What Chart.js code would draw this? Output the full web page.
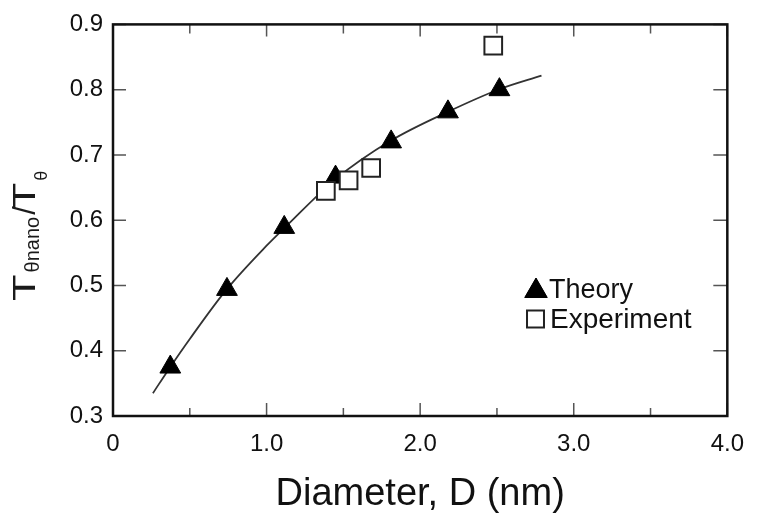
<!DOCTYPE html>
<html>
<head>
<meta charset="utf-8">
<script src="https://cdn.jsdelivr.net/npm/chart.js@4/dist/chart.umd.min.js"></script>
<style>
  body { margin: 0; background: #fff; }
  #wrap { width: 758px; height: 518px; }
</style>
</head>
<body>
<div id="wrap"><canvas id="myChart" width="758" height="518"></canvas></div>
<script>
var font_family = "'Liberation Sans', Arial, sans-serif";

// fitted curve, read along its path
var curve_x = [0.26, 0.37, 0.5, 0.74, 1.0, 1.12, 1.45, 1.81, 2.18, 2.52, 2.79];
var curve_y = [0.335, 0.374, 0.418, 0.494, 0.561, 0.589, 0.663, 0.722, 0.766, 0.801, 0.8215];

// theory points (triangles)
var theory_x = [0.373, 0.742, 1.115, 1.449, 1.811, 2.181, 2.516];
var theory_y = [0.375, 0.494, 0.589, 0.666, 0.720, 0.766, 0.800];

// experiment points (squares)
var exp_x = [1.386, 1.534, 1.681, 2.476];
var exp_y = [0.645, 0.661, 0.680, 0.8675];

var x_ticks_major = [0, 1, 2, 3, 4];
var x_ticks_minor = [0.5, 1.5, 2.5, 3.5];
var y_ticks = [0.3, 0.4, 0.5, 0.6, 0.7, 0.8, 0.9];

function toPoints(xs, ys) {
    var pts = [];
    for (let i = 0; i < xs.length; i++) {
        pts.push({x: xs[i], y: ys[i]});
    }
    return pts;
}

// box around the plot with inward tick marks on all four sides
var framePlugin = {
    id: 'frame',
    afterDraw: function (chart) {
        var ctx = chart.ctx;
        var a = chart.chartArea;
        var xs = chart.scales.x;
        var ys = chart.scales.y;
        ctx.save();
        ctx.strokeStyle = '#555';
        ctx.lineWidth = 1.5;
        ctx.beginPath();
        x_ticks_major.forEach(function (v) {
            var px = xs.getPixelForValue(v);
            ctx.moveTo(px, a.bottom); ctx.lineTo(px, a.bottom - 13);
            ctx.moveTo(px, a.top); ctx.lineTo(px, a.top + 12);
        });
        x_ticks_minor.forEach(function (v) {
            var px = xs.getPixelForValue(v);
            ctx.moveTo(px, a.bottom); ctx.lineTo(px, a.bottom - 8);
            ctx.moveTo(px, a.top); ctx.lineTo(px, a.top + 9);
        });
        y_ticks.forEach(function (v) {
            var py = ys.getPixelForValue(v);
            ctx.moveTo(a.left, py); ctx.lineTo(a.left + 13, py);
            ctx.moveTo(a.right, py); ctx.lineTo(a.right - 14, py);
        });
        ctx.stroke();
        ctx.strokeStyle = '#111';
        ctx.lineWidth = 2.5;
        ctx.strokeRect(a.left, a.top, a.right - a.left, a.bottom - a.top);
        ctx.restore();
    }
};

// y title with subscripts, drawn rotated
var yTitlePlugin = {
    id: 'yTitle',
    afterDraw: function (chart) {
        var ctx = chart.ctx;
        var parts = [
            {text: 'T', size: 31, dy: 0, sx: 1.4, gap: 0},
            {text: '\u03b8nano', size: 20, dy: 4, sx: 1, gap: 2},
            {text: '/', size: 31, dy: 0, sx: 1, gap: 2},
            {text: 'T', size: 31, dy: 0, sx: 1.4, gap: -3},
            {text: '\u03b8', size: 18, dy: 12, sx: 1, gap: 2}
        ];
        ctx.save();
        ctx.translate(35, 301);
        ctx.rotate(-Math.PI / 2);
        ctx.fillStyle = '#1a1a1a';
        ctx.textBaseline = 'alphabetic';
        ctx.textAlign = 'left';
        var pos = 0;
        parts.forEach(function (p) {
            pos += p.gap;
            ctx.font = p.size + 'px ' + font_family;
            var w = ctx.measureText(p.text).width * p.sx;
            ctx.save();
            ctx.translate(pos, p.dy);
            ctx.scale(p.sx, 1);
            ctx.fillText(p.text, 0, 0);
            ctx.restore();
            pos += w;
        });
        ctx.restore();
    }
};

// legend inside the plot
var legendPlugin = {
    id: 'innerLegend',
    afterDraw: function (chart) {
        var ctx = chart.ctx;
        ctx.save();
        Chart.helpers.drawPoint(ctx, {pointStyle: 'triangle', radius: 13, rotation: 0, borderWidth: 1}, 536, 291);
        ctx.fillStyle = '#000';
        ctx.fill();
        ctx.restore();
        ctx.save();
        ctx.fillStyle = '#fff';
        ctx.strokeStyle = '#222';
        ctx.lineWidth = 2;
        Chart.helpers.drawPoint(ctx, {pointStyle: 'rect', radius: 12, rotation: 0, borderWidth: 2}, 535.5, 319);
        ctx.restore();
        ctx.save();
        ctx.fillStyle = '#111';
        ctx.textBaseline = 'alphabetic';
        ctx.font = '27px ' + font_family;
        ctx.fillText('Theory', 549, 298);
        ctx.font = '28px ' + font_family;
        ctx.fillText('Experiment', 550, 328);
        ctx.restore();
    }
};

function make_datasets() {
    return [
        {
            label: 'Experiment',
            data: toPoints(exp_x, exp_y),
            pointStyle: 'rect',
            pointRadius: 12.5,
            backgroundColor: '#fff',
            borderColor: '#222',
            borderWidth: 2,
            showLine: false,
            order: 0
        },
        {
            label: 'Theory',
            data: toPoints(theory_x, theory_y),
            pointStyle: 'triangle',
            pointRadius: 12,
            backgroundColor: '#000',
            borderColor: '#000',
            borderWidth: 1,
            showLine: false,
            order: 1
        },
        {
            label: 'fit',
            type: 'line',
            data: toPoints(curve_x, curve_y),
            pointRadius: 0,
            borderColor: '#333',
            borderWidth: 1.8,
            cubicInterpolationMode: 'monotone',
            fill: false,
            order: 2
        }
    ];
}

function chart_stats() {
    var ctx = document.getElementById('myChart').getContext('2d');
    var chartConfig = {
        type: 'scatter',
        data: {
            datasets: make_datasets()
        },
        options: {
            responsive: false,
            animation: false,
            layout: {
                padding: {top: 22.5, right: 20.5, left: 0, bottom: 0}
            },
            scales: {
                x: {
                    type: 'linear',
                    min: 0,
                    max: 4,
                    grid: {display: false, drawTicks: false},
                    border: {display: false},
                    ticks: {
                        stepSize: 1,
                        padding: 14,
                        color: '#111',
                        font: {family: font_family, size: 24},
                        callback: function (v) { return v === 0 ? '0' : v.toFixed(1); }
                    },
                    title: {
                        display: true,
                        text: 'Diameter, D (nm)',
                        color: '#111',
                        font: {family: font_family, size: 38},
                        padding: {top: 0, bottom: 1}
                    },
                    afterFit: function (scale) { scale.height = 102; }
                },
                y: {
                    min: 0.3,
                    max: 0.9,
                    grid: {display: false, drawTicks: false},
                    border: {display: false},
                    ticks: {
                        stepSize: 0.1,
                        padding: 10,
                        color: '#111',
                        font: {family: font_family, size: 24},
                        callback: function (v) { return v.toFixed(1); }
                    },
                    afterFit: function (scale) { scale.width = 113; }
                }
            },
            plugins: {
                legend: {display: false},
                tooltip: {enabled: false}
            }
        },
        plugins: [framePlugin, yTitlePlugin, legendPlugin]
    };
    return new Chart(ctx, chartConfig);
}

var chart = chart_stats();
</script>
</body>
</html>
